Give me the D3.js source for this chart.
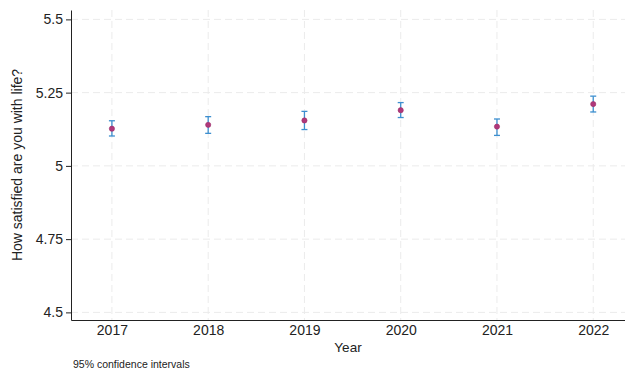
<!DOCTYPE html>
<html>
<head>
  <script src="https://d3js.org/d3.v7.min.js"></script>
  <style>
    body { margin: 0; background: #fff; }
    text { font-family: "Liberation Sans", Arial, sans-serif; fill: #222; }
  </style>
</head>
<body>
  <div id="chart_div"></div>

  <script>
    // data
    var years = [2017, 2018, 2019, 2020, 2021, 2022];
    var means = [5.127, 5.140, 5.155, 5.190, 5.134, 5.211];
    var lower = [5.102, 5.111, 5.124, 5.165, 5.104, 5.184];
    var upper = [5.154, 5.168, 5.186, 5.216, 5.160, 5.238];
    var yTicks = [4.5, 4.75, 5, 5.25, 5.5];
    var yTickLabels = ["4.5", "4.75", "5", "5.25", "5.5"];

    var data = years.map(function(y, i) {
      return { year: y, mean: means[i], lo: lower[i], hi: upper[i] };
    });

    var W = 625, H = 372;
    var plotLeft = 71, plotRight = 625, plotTop = 10, plotBottom = 320;

    var svg = d3.select("#chart_div")
      .append("svg")
      .attr("width", W)
      .attr("height", H);

    var x = d3.scaleLinear()
      .domain([2016.575, 2022.33])
      .range([plotLeft, plotRight]);

    var y = d3.scaleLinear()
      .domain([4.474, 5.532])
      .range([plotBottom, plotTop]);

    // grid
    svg.append("g").selectAll("line.hgrid")
      .data(yTicks)
      .enter().append("line")
      .attr("class", "hgrid")
      .attr("x1", plotLeft).attr("x2", plotRight)
      .attr("y1", function(d) { return y(d); })
      .attr("y2", function(d) { return y(d); })
      .attr("stroke", "#ebebeb")
      .attr("stroke-dasharray", "7,4");

    svg.append("g").selectAll("line.vgrid")
      .data(years)
      .enter().append("line")
      .attr("class", "vgrid")
      .attr("y1", plotTop).attr("y2", plotBottom)
      .attr("x1", function(d) { return x(d); })
      .attr("x2", function(d) { return x(d); })
      .attr("stroke", "#ebebeb")
      .attr("stroke-dasharray", "7,4");

    // y axis
    var yAxis = svg.append("g")
      .attr("transform", "translate(" + plotLeft + ",0)")
      .call(d3.axisLeft(y)
        .tickValues(yTicks)
        .tickFormat(function(d, i) { return yTickLabels[i]; })
        .tickSizeInner(5)
        .tickSizeOuter(0)
        .tickPadding(3));
    yAxis.select(".domain").attr("stroke", "#222");
    yAxis.selectAll(".tick line").attr("stroke", "#222");
    yAxis.selectAll("text")
      .style("font-size", "14px")
      .style("font-family", "Liberation Sans, Arial, sans-serif")
      .attr("fill", "#222");

    // x axis
    var xAxis = svg.append("g")
      .attr("transform", "translate(0," + plotBottom + ")")
      .call(d3.axisBottom(x)
        .tickValues(years)
        .tickFormat(d3.format("d"))
        .tickSize(0)
        .tickPadding(5));
    xAxis.select(".domain").attr("stroke", "#222");
    xAxis.selectAll("text")
      .style("font-size", "14px")
      .style("font-family", "Liberation Sans, Arial, sans-serif")
      .attr("fill", "#222");

    // error bars
    var cap = 3;
    var bars = svg.append("g").selectAll("g.ci")
      .data(data)
      .enter().append("g")
      .attr("class", "ci")
      .attr("stroke", "#3d8fcf")
      .attr("stroke-width", 1.3);

    bars.append("line")
      .attr("x1", function(d) { return x(d.year); })
      .attr("x2", function(d) { return x(d.year); })
      .attr("y1", function(d) { return y(d.lo); })
      .attr("y2", function(d) { return y(d.hi); });
    bars.append("line")
      .attr("x1", function(d) { return x(d.year) - cap; })
      .attr("x2", function(d) { return x(d.year) + cap; })
      .attr("y1", function(d) { return y(d.hi); })
      .attr("y2", function(d) { return y(d.hi); });
    bars.append("line")
      .attr("x1", function(d) { return x(d.year) - cap; })
      .attr("x2", function(d) { return x(d.year) + cap; })
      .attr("y1", function(d) { return y(d.lo); })
      .attr("y2", function(d) { return y(d.lo); });

    // point estimates
    svg.append("g").selectAll("circle")
      .data(data)
      .enter().append("circle")
      .attr("cx", function(d) { return x(d.year); })
      .attr("cy", function(d) { return y(d.mean); })
      .attr("r", 2.6)
      .attr("fill", "#b0387a")
      .attr("stroke", "#9c2f6c")
      .attr("stroke-width", 0.6);

    // labels
    svg.append("text")
      .attr("transform", "translate(22," + ((plotTop + plotBottom) / 2) + ") rotate(-90)")
      .attr("text-anchor", "middle")
      .style("font-size", "14px")
      .text("How satisfied are you with life?");

    svg.append("text")
      .attr("x", (plotLeft + plotRight) / 2)
      .attr("y", 352)
      .attr("text-anchor", "middle")
      .style("font-size", "13.5px")
      .text("Year");

    svg.append("text")
      .attr("x", 73)
      .attr("y", 368)
      .style("font-size", "10.5px")
      .text("95% confidence intervals");
  </script>
</body>
</html>
